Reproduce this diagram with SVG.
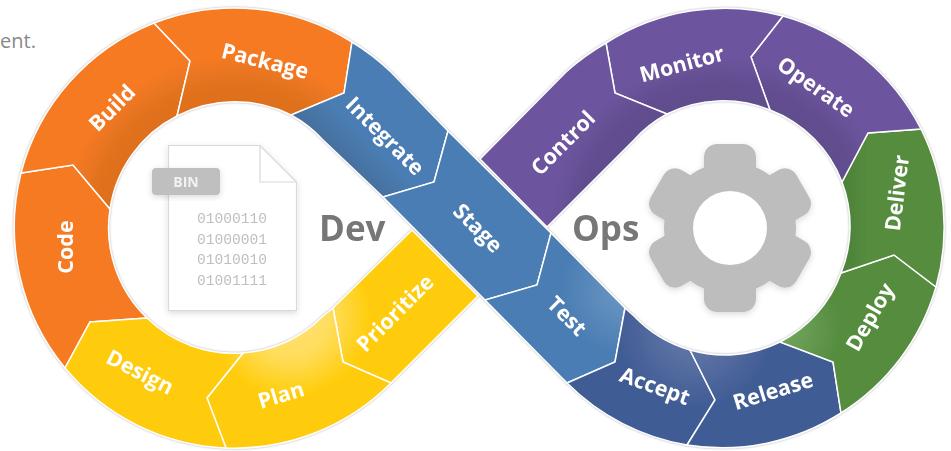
<svg xmlns="http://www.w3.org/2000/svg" width="951" height="451" viewBox="0 0 951 451">
<style>
.seg{stroke:#fff;stroke-width:1.5;stroke-linejoin:miter}
.lb{font-family:"Open Sans","Liberation Sans",sans-serif;font-weight:700;font-size:21.500px;fill:#fff;text-anchor:middle}
.big{font-family:"Open Sans","Liberation Sans",sans-serif;font-weight:700;font-size:35px;fill:#777}
.bin{font-family:"Liberation Mono",monospace;font-size:14.6px;fill:#bfbfbf}
</style>
<defs>
<filter id="ring" x="-5%" y="-5%" width="110%" height="110%"><feDropShadow dx="0" dy="0" stdDeviation="1" flood-color="#888" flood-opacity=".7"/></filter>
<filter id="soft" x="-20%" y="-20%" width="140%" height="140%"><feDropShadow dx="0" dy="2" stdDeviation="3" flood-color="#000" flood-opacity=".15"/></filter>
<radialGradient id="gOrange" gradientUnits="userSpaceOnUse" cx="235" cy="228" r="221"><stop offset=".57" stop-color="#DE6F1E"/><stop offset=".66" stop-color="#E2721F"/><stop offset=".78" stop-color="#F57A23"/></radialGradient>
<radialGradient id="gPurple" gradientUnits="userSpaceOnUse" cx="722" cy="228" r="221"><stop offset=".57" stop-color="#614D8E"/><stop offset=".66" stop-color="#624E90"/><stop offset=".78" stop-color="#6C559E"/></radialGradient>
<radialGradient id="gYellow" gradientUnits="userSpaceOnUse" cx="290" cy="316" r="82"><stop offset="0" stop-color="#FFE27E"/><stop offset=".5" stop-color="#FFDD5C"/><stop offset="1" stop-color="#FFCC07"/></radialGradient>
<radialGradient id="gNavy" gradientUnits="userSpaceOnUse" cx="695" cy="330" r="80"><stop offset="0" stop-color="#6A7CAB"/><stop offset="1" stop-color="#3F5B94"/></radialGradient>
<radialGradient id="gGreen" gradientUnits="userSpaceOnUse" cx="785" cy="330" r="58"><stop offset="0" stop-color="#74A560"/><stop offset="1" stop-color="#548C3E"/></radialGradient>
<radialGradient id="gTest" gradientUnits="userSpaceOnUse" cx="625" cy="290" r="65"><stop offset="0" stop-color="#6C98C3"/><stop offset="1" stop-color="#4A7DB3"/></radialGradient>
<linearGradient id="gInt" gradientUnits="userSpaceOnUse" x1="353" y1="168" x2="375" y2="146"><stop offset="0" stop-color="#46709F"/><stop offset="1" stop-color="#4A7DB3"/></linearGradient>
<linearGradient id="gDeliver" gradientUnits="userSpaceOnUse" x1="845" y1="228" x2="868" y2="228"><stop offset="0" stop-color="#4E8239"/><stop offset="1" stop-color="#548C3E"/></linearGradient>
</defs>
<rect width="951" height="451" fill="#fff"/>
<text x="0" y="48" font-family="Open Sans, Liberation Sans, sans-serif" font-size="20" fill="#8a8a8a">ent.</text>
<g id="connectors"/>
<g filter="url(#ring)">
<g id="code"><path class="seg" fill="#F57A23" d="M21,173 L73,165 L110,209 A125,125 0 0 0 147,318 L90,322 L65,368 A221,221 0 0 1 21,173 Z"/><text class="lb" transform="translate(65,247) rotate(-90)" y="7.500">Code</text></g>
<g id="build"><path class="seg" fill="url(#gOrange)" d="M154,23 L190,61 L177,116 A125,125 0 0 0 110,209 L73,165 L21,173 A221,221 0 0 1 154,23 Z"/><text class="lb" transform="translate(112,108) rotate(-45)" y="7.500">Build</text></g>
<g id="package"><path class="seg" fill="url(#gOrange)" d="M352,42 L344,93 L291,115 A125,125 0 0 0 177,116 L190,61 L154,23 A221,221 0 0 1 352,42 Z"/><text class="lb" transform="translate(265,61) rotate(14)" y="7.500">Package</text></g>
<g id="integrate"><path class="seg" fill="url(#gInt)" d="M448,131 L434,182 L383,197 L323,140 A125,125 0 0 0 291,115 L344,93 L352,42 A221,221 0 0 1 391,72 Z"/><text class="lb" transform="translate(385,136) rotate(45)" y="7.500">Integrate</text></g>
<g id="stage"><path class="seg" fill="#4A7DB3" d="M551,233 L537,285 L485,300 L383,197 L434,182 L448,131 Z"/><text class="lb" transform="translate(478,228) rotate(45)" y="7.500">Stage</text></g>
<g id="test"><path class="seg" fill="url(#gTest)" d="M625,308 L615,362 L567,383 L485,300 L537,285 L551,233 Z"/><text class="lb" transform="translate(567,316) rotate(45)" y="7.500">Test</text></g>
<g id="accept"><path class="seg" fill="url(#gNavy)" d="M625,308 L634,316 A125,125 0 0 0 690,350 L715,400 L687,445 A221,221 0 0 1 567,383 L615,362 Z"/><text class="lb" transform="translate(655,386) rotate(20)" y="7.500">Accept</text></g>
<g id="release"><path class="seg" fill="url(#gNavy)" d="M690,350 A125,125 0 0 0 780,342 L833,362 L841,413 A221,221 0 0 1 687,445 L715,400 Z"/><text class="lb" transform="translate(773,391) rotate(-17)" y="7.500">Release</text></g>
<g id="deploy"><path class="seg" fill="url(#gGreen)" d="M780,342 A125,125 0 0 0 841,273 L894,255 L936,287 A221,221 0 0 1 841,413 L833,362 Z"/><text class="lb" transform="translate(870,317) rotate(-60)" y="7.500">Deploy</text></g>
<g id="deliver"><path class="seg" fill="url(#gDeliver)" d="M841,273 A125,125 0 0 0 842,182 L868,133 L921,129 A221,221 0 0 1 936,287 L894,255 Z"/><text class="lb" transform="translate(897,193) rotate(-83)" y="7.500">Deliver</text></g>
<g id="operate"><path class="seg" fill="url(#gPurple)" d="M842,182 A125,125 0 0 0 770,110 L751,57 L783,16 A221,221 0 0 1 921,129 L868,133 Z"/><text class="lb" transform="translate(816,87) rotate(35)" y="7.500">Operate</text></g>
<g id="monitor"><path class="seg" fill="url(#gPurple)" d="M770,110 A125,125 0 0 0 667,114 L615,93 L606,43 A221,221 0 0 1 783,16 L751,57 Z"/><text class="lb" transform="translate(682,64) rotate(-15)" y="7.500">Monitor</text></g>
<g id="control"><path class="seg" fill="url(#gPurple)" d="M667,114 A125,125 0 0 0 634,140 L547,227 L480,159 L566,72 A221,221 0 0 1 606,43 L615,93 Z"/><text class="lb" transform="translate(563,143) rotate(-45)" y="7.500">Control</text></g>
<g id="prioritize"><path class="seg" fill="url(#gYellow)" d="M333,308 L412,230 L478,296 L391,383 L343,362 Z"/><text class="lb" transform="translate(395,313) rotate(-45)" y="7.500">Prioritize</text></g>
<g id="plan"><path class="seg" fill="url(#gYellow)" d="M243,353 A125,125 0 0 0 323,316 L333,308 L343,362 L391,383 A221,221 0 0 1 226,448 L207,398 Z"/><text class="lb" transform="translate(281,395) rotate(-17)" y="7.500">Plan</text></g>
<g id="design"><path class="seg" fill="url(#gYellow)" d="M147,318 A125,125 0 0 0 243,353 L207,398 L226,448 A221,221 0 0 1 65,368 L90,322 Z"/><text class="lb" transform="translate(140,372) rotate(27)" y="7.500">Design</text></g>
</g>
<g id="document">
<path d="M168.500,145.500 H260 L296.500,182 V310.500 H168.500 Z" fill="#fff" stroke="#d9d9d9" stroke-width="1.2" filter="url(#soft)"/>
<path d="M260,145.500 V182 H296.500" fill="none" stroke="#d9d9d9" stroke-width="1.2"/>
<rect x="152" y="168" width="68" height="27" rx="4" fill="#bfbfbf" filter="url(#soft)"/>
<text x="186" y="187" font-family="Open Sans, Liberation Sans, sans-serif" font-weight="700" font-size="14" fill="#f2f2f2" text-anchor="middle">BIN</text>
<text class="bin" x="197" y="223">01000110</text>
<text class="bin" x="197" y="244">01000001</text>
<text class="bin" x="197" y="264">01010010</text>
<text class="bin" x="197" y="285">01001111</text>
</g>
<g id="dev"><text class="big" x="319" y="241">Dev</text></g>
<g id="ops"><text class="big" x="572" y="241">Ops</text></g>
<g id="gear">
<g fill="#bdbdbd" filter="url(#soft)">
<circle cx="730" cy="228" r="66"/>
<rect x="704" y="144" width="52" height="168" rx="13"/>
<rect x="704" y="144" width="52" height="168" rx="13" transform="rotate(60 730 228)"/>
<rect x="704" y="144" width="52" height="168" rx="13" transform="rotate(120 730 228)"/>
</g>
<circle cx="730" cy="228" r="37" fill="#fff"/>
</g>
</svg>
